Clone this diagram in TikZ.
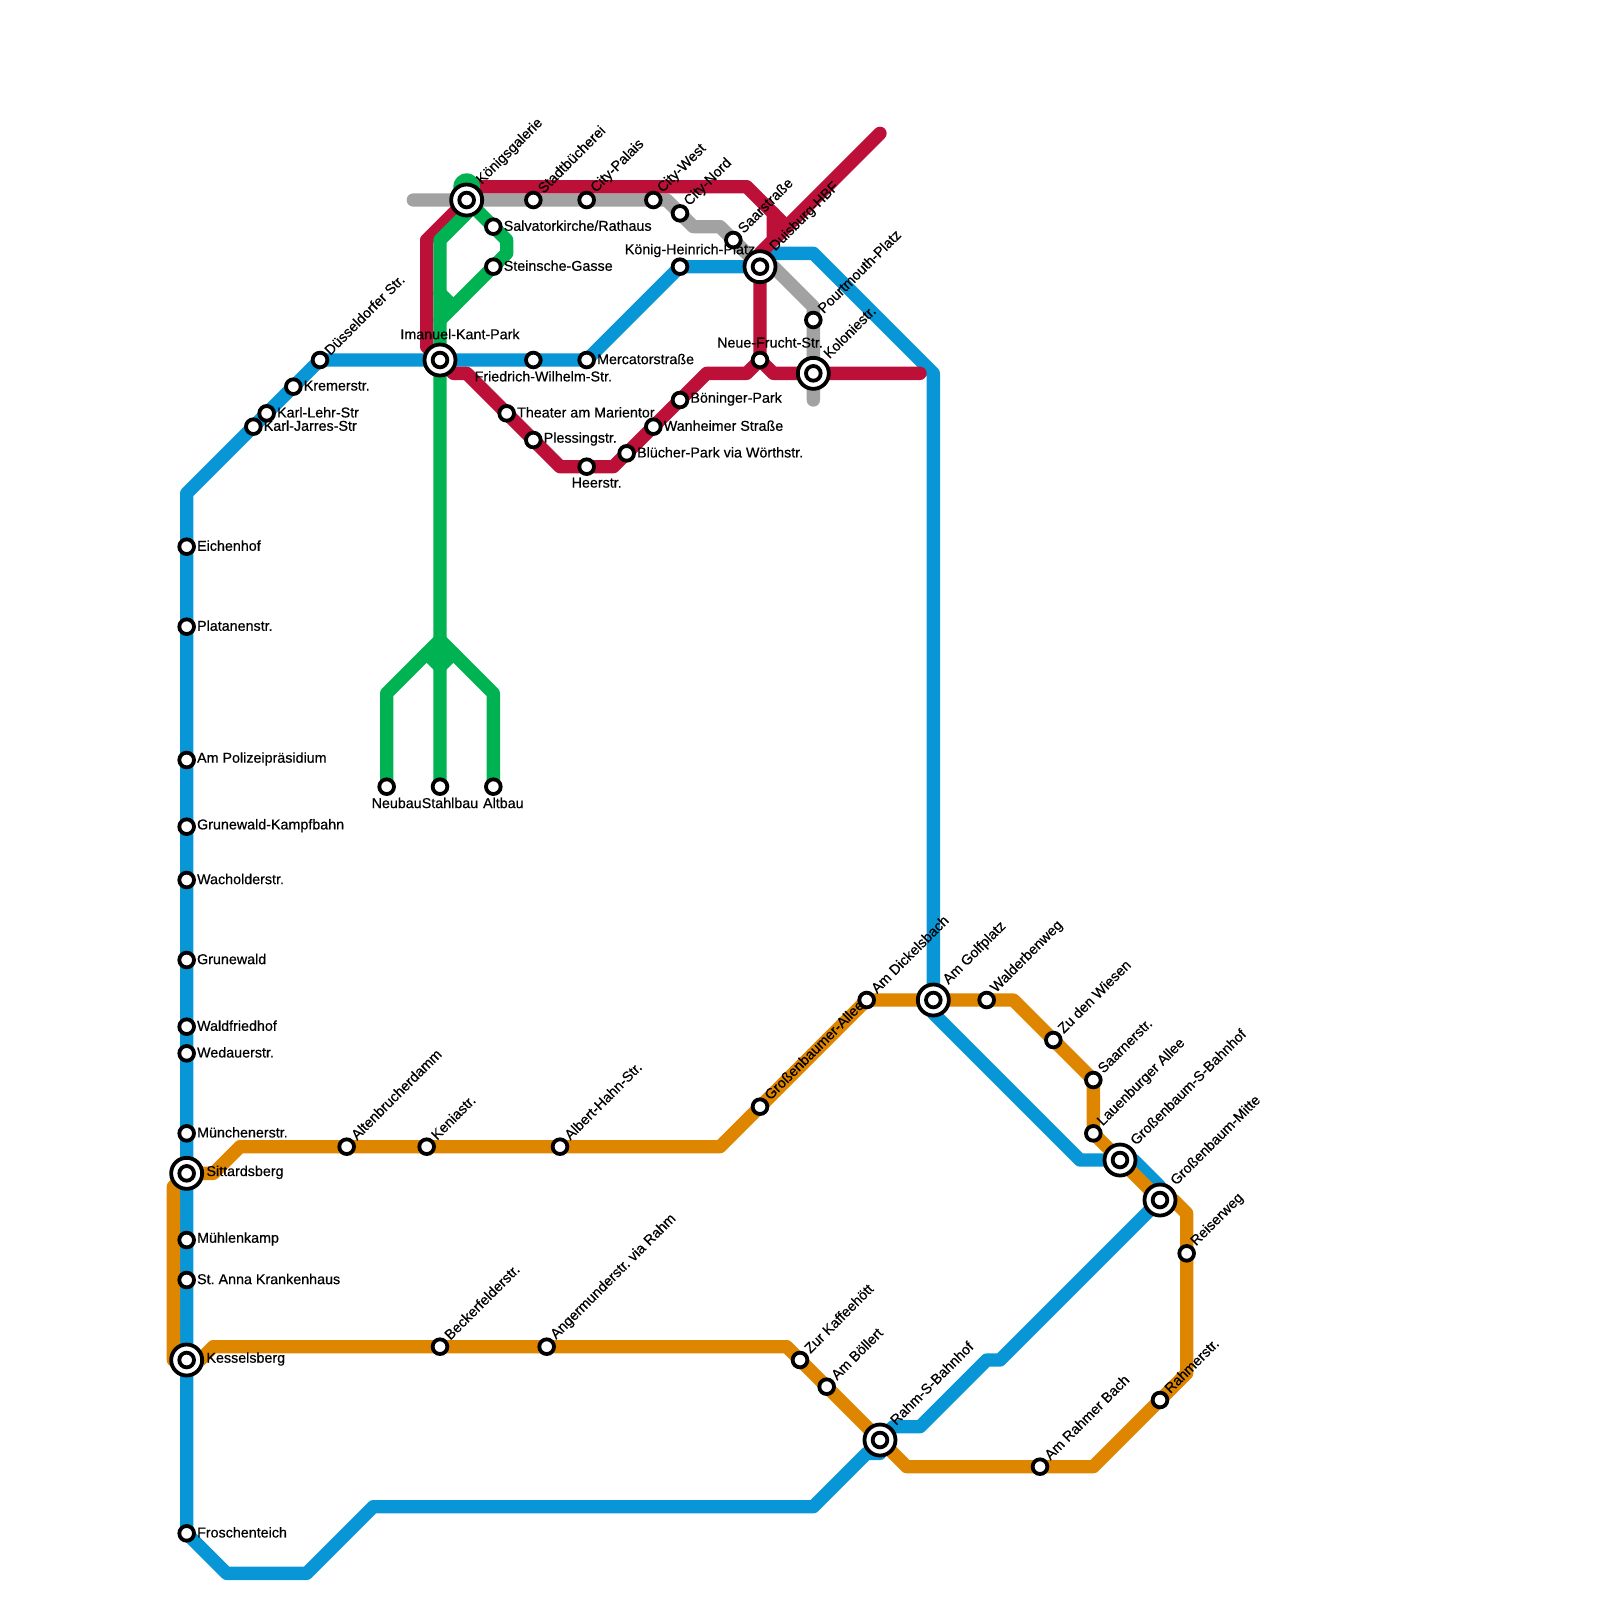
\documentclass[tikz,border=0pt]{standalone}
\usepackage{fontspec}
\setmainfont{Liberation Sans}
\newfontfamily\stopfont[FakeBold=0.5]{Liberation Sans}
\usetikzlibrary{backgrounds}
\definecolor{lineblue}{HTML}{0896D7}
\definecolor{linered}{HTML}{BD1038}
\definecolor{linegreen}{HTML}{00B251}
\definecolor{linegray}{HTML}{A2A2A2}
\definecolor{lineorange}{HTML}{DF8600}
\frenchspacing

\begin{document}
\begin{tikzpicture}[
  x=6.6667pt,
  y=-6.6667pt,
  metro/.style={
    line width=6.6667pt,
    line join=round,
    line cap=round
  },
  stop/.style={
    draw=black,
    line width=1.9pt,
    circle,
    fill=white,
    inner sep=0pt,
    minimum size=7.35pt
  },
  hub/.style={
    stop,
    minimum size=15.5pt
  },
  every label/.style={
    font=\stopfont\fontsize{7.15}{8}\selectfont,
    text=black,
    inner sep=0pt
  },
  rightname/.style={yshift=0.5pt},
  tiltname/.style={rotate=45, anchor=west},
  belowname/.style={xshift=5pt, label distance=0.7pt},
  abovename/.style={xshift=5pt, text depth=0pt},
  label distance=0.4pt
]
  \useasboundingbox (0,0) rectangle (120,120);

  % interchanges
  \node[hub, label={[tiltname, label distance=2.6pt]45:Königsgalerie}] (konig-ring) at (35,15) {};
  \node[hub, label={[abovename, xshift=5pt, label distance=1.5pt]above:Imanuel-Kant-Park}] (imanuel-ring) at (33,27) {};
  \node[hub, label={[tiltname, label distance=2.6pt]45:Duisburg-HBF}] (hbf-ring) at (57,20) {};
  \node[hub, label={[tiltname, label distance=2.6pt]45:Koloniestr.}] (kolonie-ring) at (61,28) {};
  \node[hub, label={[rightname, label distance=1pt]right:Sittardsberg}] (sittard-ring) at (14,88) {};
  \node[hub, label={[rightname, label distance=1pt]right:Kesselsberg}] (kessel-ring) at (14,102) {};
  \node[hub, label={[tiltname, label distance=2.6pt]45:Am Golfplatz}] (golf-ring) at (70,75) {};
  \node[hub, label={[tiltname, label distance=2.6pt]45:Großenbaum-S-Bahnhof}] (grossens-ring) at (84,87) {};
  \node[hub, label={[tiltname, label distance=2.6pt]45:Großenbaum-Mitte}] (mitte-ring) at (87,90) {};
  \node[hub, label={[tiltname, label distance=2.6pt]45:Rahm-S-Bahnhof}] (rahm-ring) at (66,108) {};

  \node[stop] (konig) at (konig-ring) {};
  \node[stop] (imanuel) at (imanuel-ring) {};
  \node[stop] (hbf) at (hbf-ring) {};
  \node[stop] (kolonie) at (kolonie-ring) {};
  \node[stop] (sittard) at (sittard-ring) {};
  \node[stop] (kessel) at (kessel-ring) {};
  \node[stop] (golf) at (golf-ring) {};
  \node[stop] (grossens) at (grossens-ring) {};
  \node[stop] (mitte) at (mitte-ring) {};
  \node[stop] (rahm) at (rahm-ring) {};

  % blue stops
  \node[stop, label={[rightname]right:Eichenhof}] (eichenhof) at (14,41) {};
  \node[stop, label={[rightname]right:Platanenstr.}] (platanen) at (14,47) {};
  \node[stop, label={[rightname]right:Am Polizeipräsidium}] (polizei) at (14,57) {};
  \node[stop, label={[rightname]right:Grunewald-Kampfbahn}] (kampfbahn) at (14,62) {};
  \node[stop, label={[rightname]right:Wacholderstr.}] (wacholder) at (14,66) {};
  \node[stop, label={[rightname]right:Grunewald}] (grunewald) at (14,72) {};
  \node[stop, label={[rightname]right:Waldfriedhof}] (waldfriedhof) at (14,77) {};
  \node[stop, label={[rightname]right:Wedauerstr.}] (wedau) at (14,79) {};
  \node[stop, label={[rightname]right:Münchenerstr.}] (munchen) at (14,85) {};
  \node[stop, label={[rightname]right:Mühlenkamp}] (muhlenkamp) at (14,93) {};
  \node[stop, label={[rightname]right:St. Anna Krankenhaus}] (anna) at (14,96) {};
  \node[stop, label={[rightname]right:Froschenteich}] (frosch) at (14,115) {};
  \node[stop, label={[rightname]right:Karl-Jarres-Str}] (jarres) at (19,32) {};
  \node[stop, label={[rightname]right:Karl-Lehr-Str}] (lehr) at (20,31) {};
  \node[stop, label={[rightname]right:Kremerstr.}] (kremer) at (22,29) {};
  \node[stop, label={[tiltname]45:Düsseldorfer Str.}] (dussel) at (24,27) {};
  \node[stop, label={[belowname]below:Friedrich-Wilhelm-Str.}] (friedrich) at (40,27) {};
  \node[stop, label={[rightname]right:Mercatorstraße}] (mercator) at (44,27) {};
  \node[stop, label={[abovename, label distance=1.4pt]above:König-Heinrich-Platz}] (heinrich) at (51,20) {};

  % gray stops
  \node[stop, label={[tiltname, label distance=1.4pt]45:Stadtbücherei}] (stadt) at (40,15) {};
  \node[stop, label={[tiltname, label distance=1.4pt]45:City-Palais}] (palais) at (44,15) {};
  \node[stop, label={[tiltname, label distance=1.4pt]45:City-West}] (west) at (49,15) {};
  \node[stop, label={[tiltname, label distance=1.4pt]45:City-Nord}] (nord) at (51,16) {};
  \node[stop, label={[tiltname, label distance=1.4pt]45:Saarstraße}] (saar) at (55,18) {};
  \node[stop, label={[tiltname, label distance=1.4pt]45:Pourtmouth-Platz}] (pourt) at (61,24) {};

  % red stops
  \node[stop, label={[abovename, label distance=1.4pt]above:Neue-Frucht-Str.}] (neue) at (57,27) {};
  \node[stop, label={[rightname]right:Böninger-Park}] (boninger) at (51,30) {};
  \node[stop, label={[rightname]right:Wanheimer Straße}] (wanheim) at (49,32) {};
  \node[stop, label={[rightname]right:Blücher-Park via Wörthstr.}] (blucher) at (47,34) {};
  \node[stop, label={[belowname]below:Heerstr.}] (heer) at (44,35) {};
  \node[stop, label={[rightname]right:Plessingstr.}] (pless) at (40,33) {};
  \node[stop, label={[rightname]right:Theater am Marientor}] (theater) at (38,31) {};

  % green stops
  \node[stop, label={[rightname]right:Salvatorkirche/Rathaus}] (salvator) at (37,17) {};
  \node[stop, label={[rightname]right:Steinsche-Gasse}] (stein) at (37,20) {};
  \node[stop, label={[belowname]below:Neubau}] (neubau) at (29,59) {};
  \node[stop, label={[belowname]below:Stahlbau}] (stahlbau) at (33,59) {};
  \node[stop, label={[belowname]below:Altbau}] (altbau) at (37,59) {};

  % orange stops
  \node[stop, label={[tiltname, label distance=1.4pt]45:Altenbrucherdamm}] (altenbruch) at (26,86) {};
  \node[stop, label={[tiltname, label distance=1.4pt]45:Keniastr.}] (kenia) at (32,86) {};
  \node[stop, label={[tiltname, label distance=1.4pt]45:Albert-Hahn-Str.}] (albert) at (42,86) {};
  \node[stop, label={[tiltname, label distance=1.4pt]45:Großenbaumer-Allee}] (allee) at (57,83) {};
  \node[stop, label={[tiltname, label distance=1.4pt]45:Am Dickelsbach}] (dickel) at (65,75) {};
  \node[stop, label={[tiltname, label distance=1.4pt]45:Walderbenweg}] (walder) at (74,75) {};
  \node[stop, label={[tiltname, label distance=1.4pt]45:Zu den Wiesen}] (wiesen) at (79,78) {};
  \node[stop, label={[tiltname, label distance=1.4pt]45:Saarnerstr.}] (saarner) at (82,81) {};
  \node[stop, label={[tiltname, label distance=1.4pt]45:Lauenburger Allee}] (lauen) at (82,85) {};
  \node[stop, label={[tiltname, label distance=1.4pt]45:Reiserweg}] (reiser) at (89,94) {};
  \node[stop, label={[tiltname, label distance=1.4pt]45:Rahmerstr.}] (rahmer) at (87,105) {};
  \node[stop, label={[tiltname, label distance=1.4pt]45:Am Rahmer Bach}] (rahmbach) at (78,110) {};
  \node[stop, label={[tiltname, label distance=1.4pt]45:Am Böllert}] (bollert) at (62,104) {};
  \node[stop, label={[tiltname, label distance=1.4pt]45:Zur Kaffeehött}] (kaffee) at (60,102) {};
  \node[stop, label={[tiltname, label distance=1.4pt]45:Angermunderstr. via Rahm}] (anger) at (41,101) {};
  \node[stop, label={[tiltname, label distance=1.4pt]45:Beckerfelderstr.}] (becker) at (33,101) {};

  % bends
  \coordinate (b1) at (14,37);
  \coordinate (b2) at (58,19);
  \coordinate (b3) at (61,19);
  \coordinate (b4) at (70,28);
  \coordinate (b5) at (70,76);
  \coordinate (b6) at (81,87);
  \coordinate (b7) at (85,87);
  \coordinate (b8) at (87,89);
  \coordinate (b9) at (75,102);
  \coordinate (b10) at (74,102);
  \coordinate (b11) at (69,107);
  \coordinate (b12) at (67,107);
  \coordinate (b13) at (66,109);
  \coordinate (b14) at (65,109);
  \coordinate (b15) at (61,113);
  \coordinate (b16) at (28,113);
  \coordinate (b17) at (23,118);
  \coordinate (b18) at (17,118);

  \coordinate (g1) at (31,15);
  \coordinate (g2) at (50,15);
  \coordinate (g3) at (52,17);
  \coordinate (g4) at (54,17);
  \coordinate (g5) at (58,20);
  \coordinate (g6) at (61,23);
  \coordinate (g7) at (61,30);

  \coordinate (r1) at (69,28);
  \coordinate (r2) at (58,28);
  \coordinate (r3) at (56,28);
  \coordinate (r4) at (53,28);
  \coordinate (r5) at (46,35);
  \coordinate (r6) at (42,35);
  \coordinate (r7) at (35,28);
  \coordinate (r8) at (34,28);
  \coordinate (r9) at (32,26);
  \coordinate (r10) at (32,18);
  \coordinate (r11) at (36,14);
  \coordinate (r12) at (56,14);
  \coordinate (r13) at (58,16);
  \coordinate (r14) at (58,18);
  \coordinate (r15) at (57,19);
  \coordinate (r16) at (66,10);
  \coordinate (r17) at (59,17);

  \coordinate (n1) at (33,18);
  \coordinate (n2) at (35,16);
  \coordinate (n3) at (35,14);
  \coordinate (n4) at (38,18);
  \coordinate (n5) at (38,19);
  \coordinate (n6) at (34,23);
  \coordinate (n7) at (33,24);
  \coordinate (n8) at (33,22);
  \coordinate (n9) at (29,52);
  \coordinate (n10) at (37,52);
  \coordinate (n11) at (33,48);
  \coordinate (n12) at (32,49);
  \coordinate (n13) at (34,49);
  \coordinate (n14) at (33,50);

  \coordinate (o1) at (16,88);
  \coordinate (o2) at (18,86);
  \coordinate (o3) at (54,86);
  \coordinate (o4) at (76,75);
  \coordinate (o5) at (88,90);
  \coordinate (o6) at (89,91);
  \coordinate (o7) at (89,103);
  \coordinate (o8) at (82,110);
  \coordinate (o9) at (68,110);
  \coordinate (o10) at (59,101);
  \coordinate (o11) at (16,101);
  \coordinate (o12) at (15,102);
  \coordinate (o13) at (13,102);
  \coordinate (o14) at (13,89);

  \begin{pgfonlayer}{background}
    \draw[metro, linegray] (g1) -- (konig.center) -- (stadt.center) -- (palais.center)
      -- (west.center) -- (g2) -- (nord.center) -- (g3) -- (g4) -- (saar.center)
      -- (hbf.center) -- (g5) -- (g6) -- (pourt.center) -- (kolonie.center) -- (g7);

    \draw[metro, lineblue] (frosch.center) -- (kessel.center) -- (anna.center)
      -- (muhlenkamp.center) -- (sittard.center) -- (munchen.center) -- (wedau.center)
      -- (waldfriedhof.center) -- (grunewald.center) -- (wacholder.center)
      -- (kampfbahn.center) -- (polizei.center) -- (platanen.center) -- (eichenhof.center)
      -- (b1) -- (jarres.center) -- (lehr.center) -- (kremer.center) -- (dussel.center)
      -- (imanuel.center) -- (friedrich.center) -- (mercator.center) -- (heinrich.center)
      -- (hbf.center) -- (b2) -- (b3) -- (b4) -- (golf.center) -- (b5) -- (b6)
      -- (grossens.center) -- (b7) -- (b8) -- (mitte.center) -- (b9) -- (b10) -- (b11)
      -- (b12) -- (rahm.center) -- (b13) -- (b14) -- (b15) -- (b16) -- (b17) -- (b18)
      -- (frosch.center);

    \draw[metro, linered] (r1) -- (kolonie.center) -- (r2) -- (neue.center) -- (r3) -- (r4)
      -- (boninger.center) -- (wanheim.center) -- (blucher.center) -- (r5) -- (heer.center)
      -- (r6) -- (pless.center) -- (theater.center) -- (r7) -- (r8) -- (imanuel.center)
      -- (r9) -- (r10) -- (konig.center) -- (r11) -- (r12) -- (r13) -- (r14) -- (r15)
      -- (hbf.center) -- (neue.center);
    \draw[metro, linered] (r16) -- (r14);
    \draw[metro, linered] (r13) -- (r17);

    \fill[linegreen] (n3) circle (1);
    \draw[metro, linegreen] (stahlbau.center) -- (n11) -- (imanuel.center) -- (n8) -- (n1)
      -- (n2) -- (konig.center) -- (n3);
    \draw[metro, linegreen] (konig.center) -- (salvator.center) -- (n4) -- (n5)
      -- (stein.center) -- (n6) -- (n7);
    \draw[metro, linegreen] (n8) -- (n6);
    \draw[metro, linegreen] (neubau.center) -- (n9) -- (n11) -- (n10) -- (altbau.center);
    \draw[metro, linegreen] (n12) -- (n14) -- (n13);

    \draw[metro, lineorange] (sittard.center) -- (o1) -- (o2) -- (altenbruch.center)
      -- (kenia.center) -- (albert.center) -- (o3) -- (allee.center) -- (dickel.center)
      -- (golf.center) -- (walder.center) -- (o4) -- (wiesen.center) -- (saarner.center)
      -- (lauen.center) -- (grossens.center) -- (mitte.center) -- (o5) -- (o6)
      -- (reiser.center) -- (o7) -- (rahmer.center) -- (o8) -- (rahmbach.center) -- (o9)
      -- (rahm.center) -- (bollert.center) -- (kaffee.center) -- (o10) -- (anger.center)
      -- (becker.center) -- (o11) -- (o12) -- (kessel.center) -- (o13) -- (o14)
      -- (sittard.center);
  \end{pgfonlayer}
\end{tikzpicture}
\end{document}
